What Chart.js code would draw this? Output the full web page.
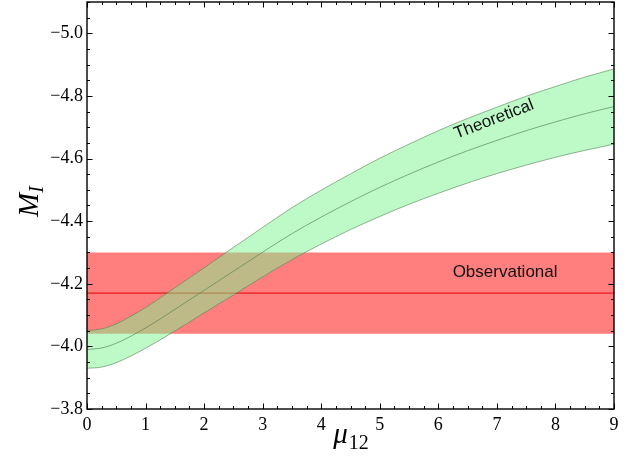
<!DOCTYPE html>
<html>
<head>
<meta charset="utf-8">
<script src="https://cdn.jsdelivr.net/npm/chart.js@4.4.1/dist/chart.umd.min.js"></script>
<style>
  html, body { margin: 0; padding: 0; background: #fff; }
</style>
</head>
<body>
<canvas id="chart" width="633" height="457"></canvas>
<script>
// mu_12 sample points and the theoretical M_I band
const muValues = [0, 0.25, 0.5, 1, 1.5, 2, 2.5, 3, 3.5, 4, 4.5, 5, 5.5, 6, 6.5, 7, 7.5, 8, 8.5, 9];
const theoryCenter = [-3.990, -3.995, -4.010, -4.059, -4.118, -4.179, -4.240, -4.301, -4.360, -4.413, -4.462, -4.508, -4.550, -4.589, -4.625, -4.658, -4.689, -4.717, -4.743, -4.766];
const theoryUpper = [-4.050, -4.056, -4.072, -4.124, -4.187, -4.251, -4.316, -4.380, -4.443, -4.499, -4.551, -4.601, -4.646, -4.689, -4.728, -4.764, -4.799, -4.830, -4.860, -4.886];
const theoryLower = [-3.930, -3.934, -3.948, -3.994, -4.049, -4.107, -4.164, -4.222, -4.277, -4.327, -4.373, -4.415, -4.454, -4.489, -4.522, -4.552, -4.579, -4.604, -4.626, -4.646];

// observational value and its range
const obsX = [0, 9];
const obsMean = -4.17;
const obsHigh = -4.30;
const obsLow = -4.04;

const xTicks = [0, 1, 2, 3, 4, 5, 6, 7, 8, 9];
const yTicks = [-5.0, -4.8, -4.6, -4.4, -4.2, -4.0, -3.8];

const toPoints = (xs, ys) => xs.map((x, i) => ({ x: x, y: ys[i] }));
const flat = (v) => obsX.map(x => ({ x: x, y: v }));

const serif = '"Liberation Serif", "Times New Roman", serif';
const sans = '"Liberation Sans", Arial, Helvetica, sans-serif';

const framePlugin = {
    id: 'frame',
    afterDraw(chart) {
        const ctx = chart.ctx;
        const area = chart.chartArea;
        const xs = chart.scales.x;
        const ys = chart.scales.y;
        ctx.save();

        // inward ticks on all four sides
        ctx.strokeStyle = '#000';
        ctx.lineWidth = 1;
        ctx.beginPath();
        for (let i = 0; i <= 36; i++) {
            const v = i * 0.25;
            const px = Math.round(xs.getPixelForValue(v)) + 0.5;
            const len = (i % 4 === 0) ? 5.5 : 3;
            ctx.moveTo(px, area.bottom); ctx.lineTo(px, area.bottom - len);
            ctx.moveTo(px, area.top); ctx.lineTo(px, area.top + len);
        }
        for (let i = 0; i <= 26; i++) {
            const v = -3.8 - i * 0.05;
            const py = Math.round(ys.getPixelForValue(v)) + 0.5;
            const len = (i % 4 === 0) ? 5.5 : 3;
            ctx.moveTo(area.left, py); ctx.lineTo(area.left + len, py);
            ctx.moveTo(area.right, py); ctx.lineTo(area.right - len, py);
        }
        ctx.stroke();

        ctx.lineWidth = 1.4;
        ctx.strokeRect(area.left, area.top, area.right - area.left, area.bottom - area.top);

        // text labels inside the plot
        ctx.fillStyle = '#111';
        ctx.font = '17px ' + sans;
        ctx.textAlign = 'center';
        ctx.textBaseline = 'middle';
        ctx.fillText('Observational', xs.getPixelForValue(7.14), ys.getPixelForValue(-4.238));

        ctx.save();
        ctx.translate(xs.getPixelForValue(6.95), ys.getPixelForValue(-4.725));
        ctx.rotate(-21 * Math.PI / 180);
        ctx.fillText('Theoretical', 0, 0);
        ctx.restore();

        // x axis title: mu_12
        ctx.fillStyle = '#000';
        ctx.textAlign = 'left';
        ctx.textBaseline = 'alphabetic';
        const bigX = 'italic 29px ' + serif;
        const subX = '20px ' + serif;
        ctx.font = bigX;
        const wMu = ctx.measureText('\u03bc').width;
        ctx.font = subX;
        const w12 = ctx.measureText('12').width;
        const cx = (area.left + area.right) / 2;
        let sx = cx - (wMu + w12) / 2;
        ctx.font = bigX;
        ctx.fillText('\u03bc', sx, 443);
        ctx.font = subX;
        ctx.fillText('12', sx + wMu + 1, 449);

        // y axis title: M_I
        ctx.save();
        ctx.translate(38, (area.top + area.bottom) / 2 - 4);
        ctx.rotate(-Math.PI / 2);
        const bigY = 'italic 29px ' + serif;
        const subY = 'italic 20px ' + serif;
        ctx.font = bigY;
        const wM = ctx.measureText('M').width;
        ctx.font = subY;
        const wI = ctx.measureText('I').width;
        let sy = -(wM + wI) / 2;
        ctx.font = bigY;
        ctx.fillText('M', sy, 0);
        ctx.font = subY;
        ctx.fillText('I', sy + wM, 5);
        ctx.restore();

        ctx.restore();
    }
};

const ctx = document.getElementById('chart').getContext('2d');
new Chart(ctx, {
    type: 'line',
    data: {
        datasets: [
            {
                // 0: observational low edge, filled up to high edge
                data: flat(obsLow),
                borderWidth: 0,
                borderColor: 'rgba(0,0,0,0)',
                backgroundColor: 'rgba(255, 0, 0, 0.5)',
                fill: 1,
                order: 6
            },
            {
                // 1: observational high edge
                data: flat(obsHigh),
                borderWidth: 0,
                borderColor: 'rgba(0,0,0,0)',
                fill: false,
                order: 5
            },
            {
                // 2: observational mean
                data: flat(obsMean),
                borderWidth: 1.2,
                borderColor: 'rgba(225, 0, 0, 0.8)',
                fill: false,
                order: 4
            },
            {
                // 3: theoretical upper edge, filled to lower edge
                data: toPoints(muValues, theoryUpper),
                borderWidth: 1,
                borderColor: 'rgba(80, 130, 80, 0.6)',
                backgroundColor: 'rgba(125, 245, 145, 0.5)',
                fill: 4,
                cubicInterpolationMode: 'monotone',
                order: 3
            },
            {
                // 4: theoretical lower edge
                data: toPoints(muValues, theoryLower),
                borderWidth: 1,
                borderColor: 'rgba(80, 130, 80, 0.6)',
                fill: false,
                cubicInterpolationMode: 'monotone',
                order: 2
            },
            {
                // 5: theoretical central curve
                data: toPoints(muValues, theoryCenter),
                borderWidth: 1,
                borderColor: 'rgba(80, 130, 80, 0.65)',
                fill: false,
                cubicInterpolationMode: 'monotone',
                order: 1
            }
        ]
    },
    options: {
        responsive: false,
        animation: false,
        devicePixelRatio: 1,
        layout: { padding: { top: 2, right: 19, left: 0, bottom: 0 } },
        elements: { point: { radius: 0, hoverRadius: 0 } },
        plugins: {
            legend: { display: false },
            tooltip: { enabled: false }
        },
        scales: {
            x: {
                type: 'linear',
                min: 0,
                max: 9,
                grid: { display: false, drawTicks: false },
                border: { display: false },
                afterBuildTicks: (scale) => { scale.ticks = xTicks.map(v => ({ value: v })); },
                afterFit: (scale) => {
                    scale.height = 48;
                    scale.paddingLeft = 0;
                    scale.paddingRight = 0;
                },
                ticks: {
                    padding: 5,
                    color: '#000',
                    font: { family: serif, size: 18 },
                    maxRotation: 0,
                    callback: (v) => String(v)
                }
            },
            y: {
                type: 'linear',
                min: -5.1,
                max: -3.8,
                reverse: true,
                grid: { display: false, drawTicks: false },
                border: { display: false },
                afterBuildTicks: (scale) => { scale.ticks = yTicks.map(v => ({ value: v })); },
                afterFit: (scale) => {
                    scale.width = 87;
                    scale.paddingTop = 0;
                    scale.paddingBottom = 0;
                },
                ticks: {
                    padding: 4,
                    color: '#000',
                    font: { family: serif, size: 18 },
                    callback: (v) => '\u2212' + Math.abs(v).toFixed(1)
                }
            }
        }
    },
    plugins: [framePlugin]
});
</script>
</body>
</html>
